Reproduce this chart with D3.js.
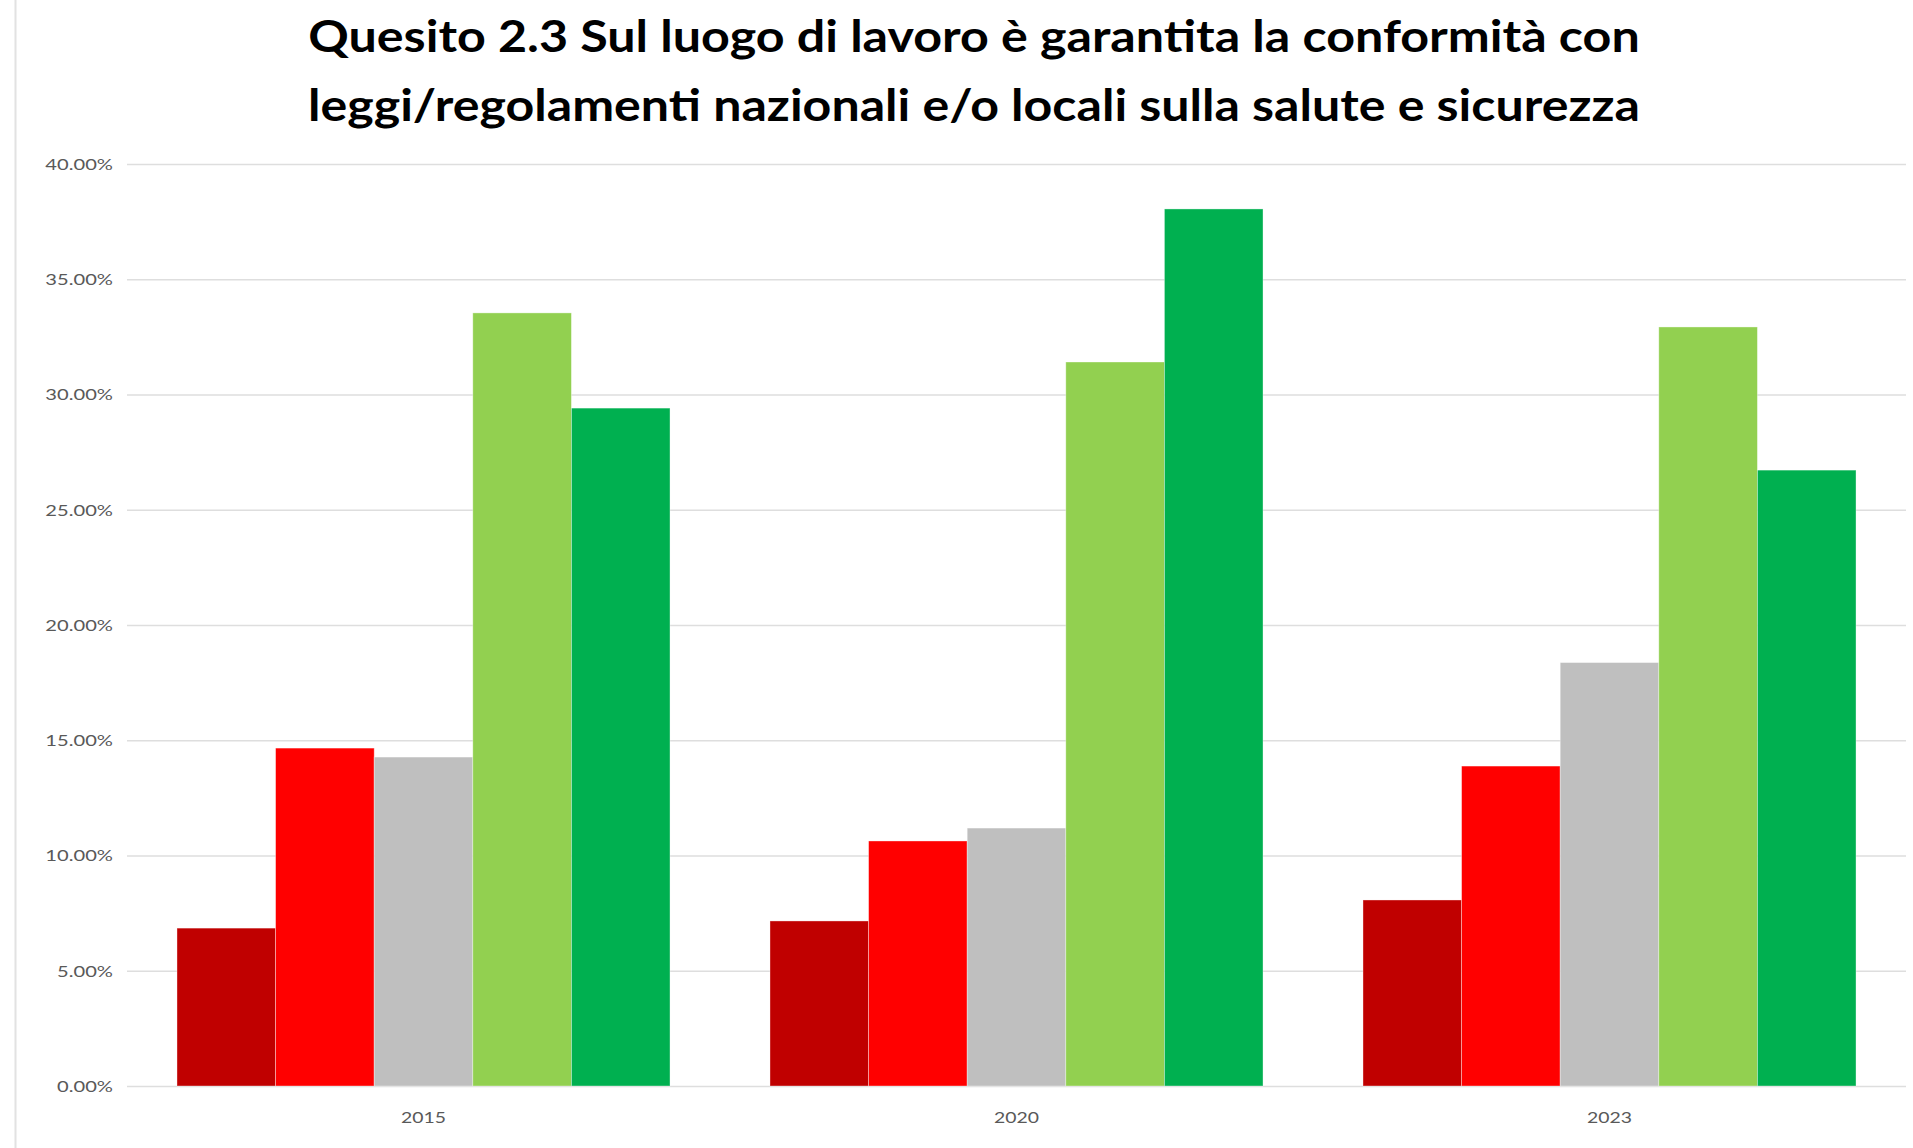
<!DOCTYPE html>
<html>
<head>
<meta charset="utf-8">
<script src="https://cdn.jsdelivr.net/npm/d3@7"></script>
<style>
  html, body { margin: 0; padding: 0; background: #fff; }
  svg { display: block; }
  text { font-family: Lato, "Open Sans", "DejaVu Sans", sans-serif; }
</style>
</head>
<body>
<svg id="chart" width="1913" height="1148"></svg>
<script>
// Survey years (x categories)
const years = ["2015", "2020", "2023"];
// Answer levels, from strong disagreement to strong agreement
const levels = ["Per niente", "Poco", "Neutro", "Abbastanza", "Molto"];
// Share of answers per level, one array per year (percent)
const values2015 = [6.85, 14.66, 14.27, 33.54, 29.41];
const values2020 = [7.16, 10.63, 11.19, 31.41, 38.05];
const values2023 = [8.07, 13.88, 18.37, 32.93, 26.72];
const seriesByYear = [values2015, values2020, values2023];
// Y axis ticks (percent)
const yTicks = [0, 5, 10, 15, 20, 25, 30, 35, 40];
const levelColors = ["#C00000", "#FF0000", "#BFBFBF", "#92D050", "#00B050"];
const titleLines = [
  "Quesito 2.3 Sul luogo di lavoro è garantita la conformità con",
  "leggi/regolamenti nazionali e/o locali sulla salute e sicurezza"
];

const svg = d3.select("#chart");
const W = 1913, H = 1148;
const plot = { left: 127, right: 1906, top: 164, bottom: 1086 };

svg.append("rect").attr("width", W).attr("height", H).attr("fill", "#fff");
// chart frame (left edge visible)
svg.append("line")
  .attr("x1", 15.5).attr("x2", 15.5).attr("y1", 0).attr("y2", H)
  .attr("stroke", "#e2e2e2").attr("stroke-width", 2);

const x0 = d3.scaleBand().domain(years)
  .range([plot.left, plot.right]).paddingInner(0.1686).paddingOuter(0.0843);
const x1 = d3.scaleBand().domain(levels).range([0, x0.bandwidth()]).padding(0);
const y = d3.scaleLinear().domain([0, 40]).range([plot.bottom, plot.top]);
const color = d3.scaleOrdinal().domain(levels).range(levelColors);
const fmt = d => d.toFixed(2) + "%";

// Gridlines + y labels
const yAxis = d3.axisLeft(y).tickValues(yTicks).tickFormat(fmt)
  .tickSize(-(plot.right - plot.left)).tickPadding(14);
const gy = svg.append("g").attr("transform", `translate(${plot.left},0)`).call(yAxis);
gy.select(".domain").remove();
gy.selectAll(".tick line").attr("stroke", "#dedede").attr("stroke-width", 1.6);
gy.selectAll(".tick text")
  .attr("fill", "#595959").attr("font-size", 15.5)
  .attr("x", null).attr("dy", "0.34em")
  .attr("transform", "translate(-14,0) scale(1.3,1)");

// Bars
const groups = svg.append("g").selectAll("g")
  .data(years.map((yr, i) => ({ yr, vals: seriesByYear[i] })))
  .join("g")
  .attr("transform", d => `translate(${x0(d.yr)},0)`);

groups.selectAll("rect")
  .data(d => d.vals.map((v, j) => ({ level: levels[j], v })))
  .join("rect")
  .attr("x", d => x1(d.level))
  .attr("width", x1.bandwidth())
  .attr("y", d => y(d.v))
  .attr("height", d => y(0) - y(d.v))
  .attr("fill", d => color(d.level))
  .attr("stroke", "rgba(255,255,255,0.45)")
  .attr("stroke-width", 0.8);

// X axis labels
const xAxis = d3.axisBottom(x0).tickSize(0).tickPadding(0);
const gx = svg.append("g").attr("transform", `translate(0,${plot.bottom})`).call(xAxis);
gx.select(".domain").remove();
gx.selectAll(".tick text")
  .attr("fill", "#595959").attr("font-size", 15.5)
  .attr("y", null).attr("dy", null)
  .attr("transform", "translate(0,37) scale(1.25,1)");

// Title, two centred lines stretched to the width of the heading
const titleCenter = 974;
const titleBaselines = [52, 121];
const titleWidth = 1332;
titleLines.forEach((line, i) => {
  const t = svg.append("text")
    .attr("text-anchor", "middle")
    .attr("font-size", 43)
    .attr("font-weight", 700)
    .attr("fill", "#000")
    .text(line);
  const len = t.node().getComputedTextLength();
  const sx = titleWidth / len;
  t.attr("transform", `translate(${titleCenter},${titleBaselines[i]}) scale(${sx},1)`);
});
</script>
</body>
</html>
